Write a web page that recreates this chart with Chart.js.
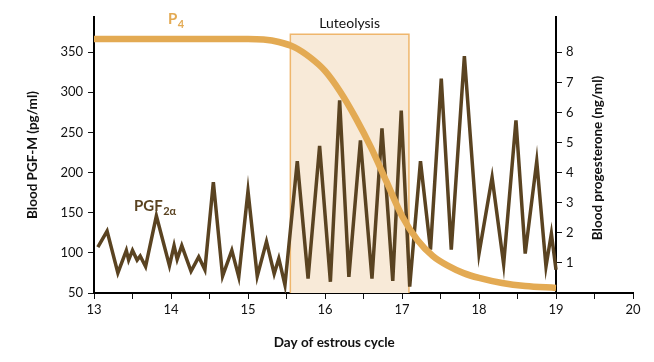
<!DOCTYPE html>
<html>
<head>
<meta charset="utf-8">
<script src="https://cdn.jsdelivr.net/npm/chart.js@4.4.1/dist/chart.umd.min.js"></script>
<style>
  body { margin: 0; background: #fff; }
</style>
</head>
<body>
<canvas id="grafico" width="654" height="362"></canvas>
<script>
// valores
const pgfDays = [13.05, 13.17, 13.31, 13.42, 13.45, 13.50, 13.56, 13.60, 13.67, 13.81,
  13.98, 14.04, 14.08, 14.14, 14.26, 14.36, 14.44, 14.55, 14.67, 14.79,
  14.88, 15.00, 15.12, 15.24, 15.34, 15.40, 15.48, 15.64, 15.78, 15.93,
  16.07, 16.19, 16.31, 16.46, 16.61, 16.74, 16.88, 16.99, 17.10, 17.24,
  17.37, 17.51, 17.64, 17.81, 18.00, 18.17, 18.32, 18.48, 18.60, 18.75,
  18.87, 18.94, 19.00]
const pgfValues = [107, 127, 75, 103, 91, 103, 91, 96, 83, 146,
  84, 109, 92, 109, 77, 95, 79, 188, 71, 103,
  70, 177, 71, 114, 74, 93, 60, 214, 68, 233,
  64, 290, 70, 240, 68, 255, 65, 277, 58, 214,
  104, 317, 104, 345, 99, 194, 86, 265, 99, 214,
  83, 124, 79]

const p4Days = [13, 15.0, 15.2, 15.4, 15.6, 15.8, 16.0, 16.2, 16.4, 16.6,
  16.8, 17.0, 17.2, 17.4, 17.6, 17.8, 18.0, 18.3, 18.6, 19.0]
const p4Values = [8.44, 8.44, 8.42, 8.34, 8.17, 7.84, 7.38, 6.68, 5.81, 4.82,
  3.69, 2.56, 1.76, 1.23, 0.90, 0.66, 0.50, 0.33, 0.23, 0.17]

const luteolysisDays = [15.55, 17.09]
const luteolysisTop = 372

const dayLabels = [13, 14, 15, 16, 17, 18, 19, 20]
const pgfTicks = [50, 100, 150, 200, 250, 300, 350]
const p4Ticks = [1, 2, 3, 4, 5, 6, 7, 8]
const rightAxisDay = 19

const marrom = '#5a4321'
const dourado = '#e3aa53'
const fonte = 'Lato'

// meio dia entre cada rotulo
const xTicks = dayLabels.flatMap(d => d < 20 ? [d, d + 0.5] : [d])

Chart.defaults.font.family = fonte
Chart.defaults.font.size = 13
Chart.defaults.color = '#111'

// joga o eixo da direita para o dia 19
const eixoDireito = {
  id: 'eixoDireito',
  afterLayout(chart) {
    const s = chart.scales.y2
    const px = chart.scales.x.getPixelForValue(rightAxisDay)
    s.left = px
    s.right = px + 40
  }
}

function comIndice(ctx, base, indice, x, y, tam, cor) {
  ctx.font = 'bold ' + tam + 'px ' + fonte
  ctx.fillStyle = cor
  ctx.textAlign = 'left'
  ctx.textBaseline = 'alphabetic'
  ctx.fillText(base, x, y)
  const w = ctx.measureText(base).width
  ctx.font = 'bold ' + Math.round(tam * 0.72) + 'px ' + fonte
  ctx.fillText(indice, x + w + 0.5, y + tam * 0.27)
}

const textos = {
  id: 'textos',
  afterDraw(chart) {
    const { ctx, scales: { x, y, y2 } } = chart
    ctx.save()

    const l0 = x.getPixelForValue(luteolysisDays[0])
    const l1 = x.getPixelForValue(luteolysisDays[1])
    ctx.font = '14px ' + fonte
    ctx.fillStyle = '#111'
    ctx.textAlign = 'center'
    ctx.textBaseline = 'alphabetic'
    ctx.fillText('Luteolysis', (l0 + l1) / 2, y.getPixelForValue(luteolysisTop) - 6)

    comIndice(ctx, 'P', '4', x.getPixelForValue(13.96), y2.getPixelForValue(8.94), 15, dourado)
    comIndice(ctx, 'PGF', '2\u03b1', x.getPixelForValue(13.52), y.getPixelForValue(152), 15, marrom)

    ctx.font = 'bold 13.5px ' + fonte
    ctx.fillStyle = '#111'
    ctx.textAlign = 'center'
    ctx.textBaseline = 'middle'
    ctx.fillText('Day of estrous cycle', x.getPixelForValue(16.12), 343)

    ctx.translate(y2.left + 42, (y2.top + y2.bottom) / 2 + 3)
    ctx.rotate(-Math.PI / 2)
    ctx.fillText('Blood progesterone (ng/ml)', 0, 0)
    ctx.restore()
  }
}

const gradeEixo = { drawOnChartArea: false, tickLength: 6, color: '#111', tickWidth: 1 }
const bordaEixo = { color: '#000', width: 2 }

new Chart('grafico', {
  type: 'line',
  data: {
    datasets: [
      {
        label: 'P4',
        data: p4Days.map((d, i) => ({ x: d, y: p4Values[i] })),
        yAxisID: 'y2',
        borderColor: dourado,
        borderWidth: 6.5,
        cubicInterpolationMode: 'monotone',
        pointRadius: 0,
        fill: false,
        order: 1
      },
      {
        label: 'PGF2a',
        data: pgfDays.map((d, i) => ({ x: d, y: pgfValues[i] })),
        yAxisID: 'y',
        borderColor: marrom,
        borderWidth: 3.5,
        tension: 0,
        pointRadius: 0,
        fill: false,
        order: 2
      },
      {
        label: 'Luteolysis',
        data: [
          { x: luteolysisDays[0], y: pgfTicks[0] },
          { x: luteolysisDays[0], y: luteolysisTop },
          { x: luteolysisDays[1], y: luteolysisTop },
          { x: luteolysisDays[1], y: pgfTicks[0] }
        ],
        yAxisID: 'y',
        borderColor: '#efb66c',
        borderWidth: 1.5,
        backgroundColor: '#f8ead8',
        fill: 'start',
        tension: 0,
        pointRadius: 0,
        order: 3
      }
    ]
  },
  options: {
    responsive: false,
    animation: false,
    devicePixelRatio: 1,
    layout: { padding: { left: 24, right: 21, top: 17, bottom: 0 } },
    plugins: { legend: { display: false }, tooltip: { enabled: false } },
    scales: {
      x: {
        type: 'linear',
        min: 13,
        max: 20,
        afterBuildTicks: s => { s.ticks = xTicks.map(v => ({ value: v })) },
        afterFit: s => { s.height = 69 },
        ticks: {
          autoSkip: false,
          maxRotation: 0,
          padding: 3,
          callback: v => dayLabels.includes(v) ? String(v) : ''
        },
        grid: gradeEixo,
        border: bordaEixo
      },
      y: {
        position: 'left',
        min: 50,
        max: 393.6,
        afterBuildTicks: s => { s.ticks = pgfTicks.map(v => ({ value: v })) },
        afterFit: s => { s.width = 70 },
        ticks: { padding: 5 },
        grid: gradeEixo,
        border: bordaEixo,
        title: {
          display: true,
          text: 'Blood PGF-M (pg/ml)',
          font: { size: 13.5, weight: 'bold' },
          color: '#111',
          padding: { top: 1, bottom: 0 }
        }
      },
      y2: {
        position: 'right',
        min: 0,
        max: 9.17,
        afterBuildTicks: s => { s.ticks = p4Ticks.map(v => ({ value: v })) },
        afterFit: s => { s.width = 0 },
        ticks: { padding: 4 },
        grid: gradeEixo,
        border: bordaEixo
      }
    }
  },
  plugins: [eixoDireito, textos]
})
</script>
</body>
</html>
